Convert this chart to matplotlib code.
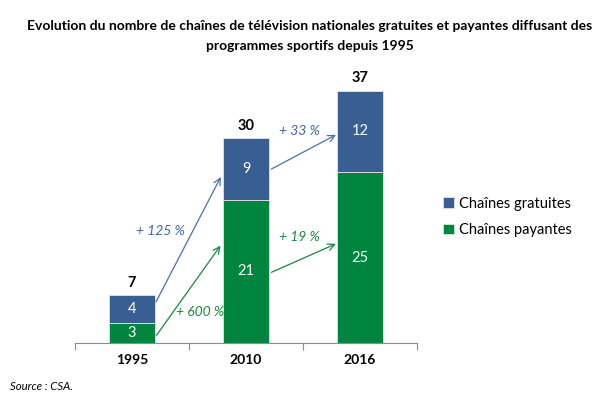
import numpy as np
import matplotlib
matplotlib.use("Agg")
import matplotlib.pyplot as plt

plt.rcParams['font.family'] = ['Lato', 'DejaVu Sans']

years = ['1995', '2010', '2016']
payantes = [3, 21, 25]
gratuites = [4, 9, 12]
totals = [7, 30, 37]
growth_gratuites = ['+ 125 %', '+ 33 %']
growth_payantes = ['+ 600 %', '+ 19 %']

blue = '#395E91'
green = '#00853E'
blue_txt = '#3F67A4'
green_txt = '#1B8A3A'

fig = plt.figure(figsize=(6.1, 3.98), dpi=100)
ax = fig.add_axes([0.123, 0.138, 0.5607, 0.686])

x = np.arange(len(years))
w = 0.4
ax.bar(x, payantes, w, color=green, edgecolor='#dfe8df', linewidth=0.6, label='Chaînes payantes')
ax.bar(x, gratuites, w, bottom=payantes, color=blue, edgecolor='#dfe4ee', linewidth=0.6, label='Chaînes gratuites')

for i in range(len(years)):
    ax.text(x[i], payantes[i] / 2, str(payantes[i]), ha='center', va='center', color='white', fontsize=10.5)
    ax.text(x[i], payantes[i] + gratuites[i] / 2, str(gratuites[i]), ha='center', va='center', color='white', fontsize=10.5)
    ax.text(x[i], totals[i] + 1.8, str(totals[i]), ha='center', va='center', color='black', fontsize=10.5, fontweight='bold')

# fleches d'evolution
ap_b = dict(arrowstyle='->', color='#4A6FA8', lw=0.9, mutation_scale=12)
ap_g = dict(arrowstyle='->', color='#138A40', lw=0.9, mutation_scale=12)
ax.annotate('', xy=(0.79, 24.7), xytext=(0.2, 5.7), arrowprops=ap_b)
ax.annotate('', xy=(0.79, 14.6), xytext=(0.2, 0.8), arrowprops=ap_g)
ax.annotate('', xy=(1.81, 30.7), xytext=(1.2, 25.3), arrowprops=ap_b)
ax.annotate('', xy=(1.81, 14.7), xytext=(1.2, 10.2), arrowprops=ap_g)

ax.text(0.25, 16.4, growth_gratuites[0], color=blue_txt, style='italic', fontsize=10, ha='center', va='center')
ax.text(0.6, 4.5, growth_payantes[0], color=green_txt, style='italic', fontsize=10, ha='center', va='center')
ax.text(1.47, 31.1, growth_gratuites[1], color=blue_txt, style='italic', fontsize=10, ha='center', va='center')
ax.text(1.47, 15.5, growth_payantes[1], color=green_txt, style='italic', fontsize=10, ha='center', va='center')

ax.set_xlim(-0.5, 2.5)
ax.set_ylim(0, 40)
for s in ['top', 'right', 'left']:
    ax.spines[s].set_visible(False)
ax.spines['bottom'].set_color('#8c8c8c')
ax.set_yticks([])
ax.set_xticks([-0.5, 0.5, 1.5, 2.5])
ax.set_xticklabels([])
ax.set_xticks(x, minor=True)
ax.set_xticklabels(years, minor=True, fontweight='bold', fontsize=10)
ax.tick_params(axis='x', which='major', length=5, color='#8c8c8c')
ax.tick_params(axis='x', which='minor', length=0, pad=8)

h, l = ax.get_legend_handles_labels()
fig.legend(h[::-1], l[::-1], loc='center left', bbox_to_anchor=(0.705, 0.455), frameon=False,
           fontsize=10.5, handlelength=0.75, handleheight=0.75, handletextpad=0.35, labelspacing=0.85)

fig.text(0.508, 0.935, "Evolution du nombre de chaînes de télévision nationales gratuites et payantes diffusant des",
         ha='center', va='center', fontsize=10, fontweight='bold')
fig.text(0.508, 0.885, "programmes sportifs depuis 1995", ha='center', va='center', fontsize=10, fontweight='bold')
fig.text(0.016, 0.03, "Source : CSA.", ha='left', va='center', fontsize=8.2, style='italic')

fig.savefig('out.png', dpi=100)
